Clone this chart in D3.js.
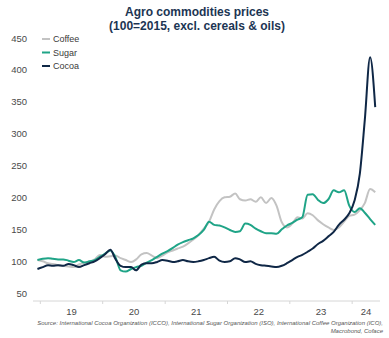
<!DOCTYPE html>
<html>
<head>
<meta charset="utf-8">
<script src="https://cdn.jsdelivr.net/npm/d3@7"></script>
<style>
  body { margin: 0; background: #fff; }
  svg { display: block; font-family: "Liberation Sans", Arial, sans-serif; }
</style>
</head>
<body>
<div id="viz"></div>
<script>
// monthly values, Dec 2018 .. May 2024 (index 100 = 2015)
const startYear = 2018, startMonth = 11; // 0-based month: December
const coffee = [103,101,98,97,95,94,93,92,96,99,100,104,111,108,109,110,106,103,100,104,112,114,110,106,
  110,115,118,121,124,129,135,142,152,163,182,195,201,202,207,198,196,198,194,201,192,200,188,162,
  154,160,170,168,176,173,165,159,154,150,154,163,172,174,181,192,214,209];
const sugar = [103,105,106,105,104,104,102,100,103,99,101,103,108,113,118,108,87,85,89,92,94,99,103,108,
  113,117,122,127,131,134,137,142,150,163,158,157,154,150,147,148,160,158,152,148,145,145,144,151,
  157,161,166,170,205,206,197,192,198,212,209,212,188,178,184,177,167,158];
const cocoa = [89,92,95,94,95,94,97,95,92,95,98,101,106,112,119,105,94,92,92,87,96,98,98,100,
  103,102,100,101,103,101,100,101,103,106,108,102,100,101,106,104,100,101,97,95,94,93,92,94,
  98,103,108,111,116,121,128,133,140,147,158,166,176,196,238,322,420,342];

const seriesNames = ["Coffee", "Sugar", "Cocoa"];
const seriesColors = ["#c3c3c3", "#1fa487", "#0f2746"];
const seriesValues = [coffee, sugar, cocoa];
const yTicks = [50, 100, 150, 200, 250, 300, 350, 400, 450];
const yearLabels = ["19", "20", "21", "22", "23", "24"];

const width = 389, height = 338;
const svg = d3.select("#viz").append("svg")
  .attr("width", width)
  .attr("height", height);

// --- scales ---
const x = d3.scaleTime()
  .domain([new Date(2018, 10, 19), new Date(2024, 5, 12)])
  .range([33, 380]);
const y = d3.scaleLinear().domain([39, 450]).range([301, 38]);

const dateAt = i => new Date(startYear, startMonth + i, 15);

// --- title ---
const title = svg.append("g")
  .attr("fill", "#1c3553")
  .attr("font-weight", "bold")
  .attr("font-size", 12)
  .attr("text-anchor", "middle");
title.append("text").attr("x", 197).attr("y", 16).text("Agro commodities prices");
title.append("text").attr("x", 197).attr("y", 30).text("(100=2015, excl. cereals & oils)");

// --- y axis labels (no line) ---
svg.append("g")
  .attr("font-size", 9.5)
  .attr("fill", "#4a4a4a")
  .attr("text-anchor", "end")
  .selectAll("text")
  .data(yTicks)
  .join("text")
  .attr("x", 27)
  .attr("y", d => y(d) + 3.5)
  .text(d => d);

// --- x axis ---
const xAxis = svg.append("g").attr("transform", `translate(0,${y(39)})`);
xAxis.append("line")
  .attr("x1", x.range()[0]).attr("x2", x.range()[1])
  .attr("stroke", "#d6d6d6");
const years = d3.range(2019, 2025);
xAxis.selectAll(".tick")
  .data(years)
  .join("line")
  .attr("x1", d => x(new Date(d, 0, 1)))
  .attr("x2", d => x(new Date(d, 0, 1)))
  .attr("y1", 0).attr("y2", 3)
  .attr("stroke", "#d6d6d6");
xAxis.selectAll("text")
  .data(years)
  .join("text")
  .attr("x", (d, i) => {
    const a = x(new Date(d, 0, 1));
    const b = Math.min(x(new Date(d + 1, 0, 1)), x.range()[1]);
    return (a + b) / 2;
  })
  .attr("y", 14)
  .attr("text-anchor", "middle")
  .attr("font-size", 9.5)
  .attr("fill", "#4a4a4a")
  .text((d, i) => yearLabels[i]);

// --- lines ---
const line = d3.line()
  .x((d, i) => x(dateAt(i)))
  .y(d => y(d))
  .curve(d3.curveMonotoneX);

svg.append("g")
  .attr("fill", "none")
  .attr("stroke-width", 2)
  .attr("stroke-linejoin", "round")
  .selectAll("path")
  .data(seriesValues)
  .join("path")
  .attr("stroke", (d, i) => seriesColors[i])
  .attr("d", line);

// --- legend ---
const legend = svg.append("g").attr("font-size", 9).attr("fill", "#3a3a3a");
seriesNames.forEach((name, i) => {
  const ly = 39 + i * 13.5;
  legend.append("line")
    .attr("x1", 42).attr("x2", 50)
    .attr("y1", ly).attr("y2", ly)
    .attr("stroke", seriesColors[i])
    .attr("stroke-width", 2);
  legend.append("text").attr("x", 53).attr("y", ly + 3).text(name);
});

// --- source ---
const src = svg.append("g")
  .attr("font-size", 6)
  .attr("font-style", "italic")
  .attr("fill", "#555")
  .attr("text-anchor", "end");
src.append("text").attr("x", 383).attr("y", 325)
  .text("Source: International Cocoa Organization (ICCO), International Sugar Organization (ISO), International Coffee Organization (ICO),");
src.append("text").attr("x", 383).attr("y", 333).text("Macrobond, Coface");
</script>
</body>
</html>
